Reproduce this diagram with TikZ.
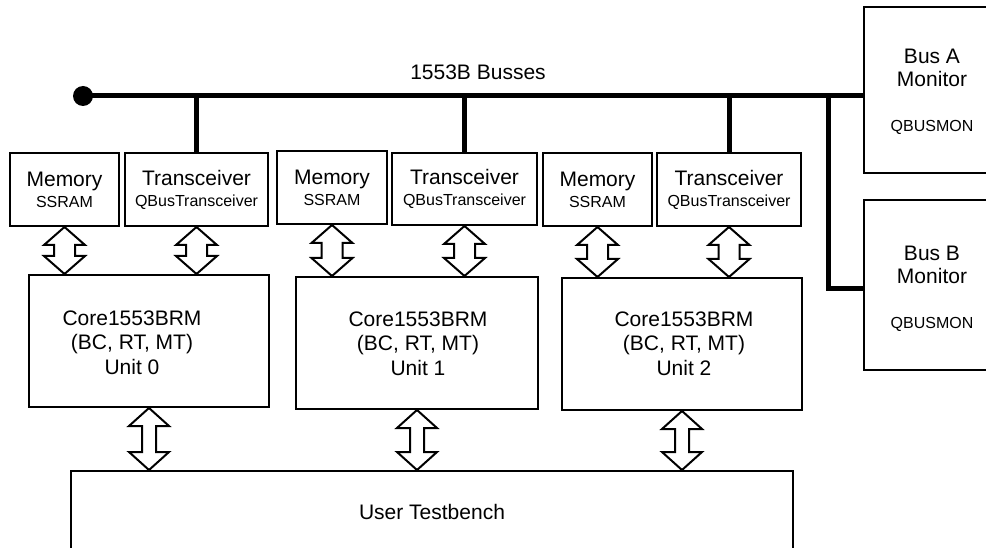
\documentclass[tikz,border=0pt]{standalone}
\usepackage{fontspec}
\setmainfont{Liberation Sans}
\usetikzlibrary{calc}
\newcommand{\smalltxt}[1]{{\fontsize{16}{19}\selectfont #1}}
% double-headed hollow arrow from #1.south to #2.north
\newcommand{\dblarrow}[5]{%
  \draw[dblarr] let \p1=(#1.south), \p2=(#2.north) in
    (\x1,\y1) -- (\x1+#3pt,\y1-#5pt) -- (\x1+#4pt,\y1-#5pt) -- (\x1+#4pt,\y2+#5pt)
    -- (\x1+#3pt,\y2+#5pt) -- (\x1,\y2) -- (\x1-#3pt,\y2+#5pt) -- (\x1-#4pt,\y2+#5pt)
    -- (\x1-#4pt,\y1-#5pt) -- (\x1-#3pt,\y1-#5pt) -- cycle;}
\begin{document}
\begin{tikzpicture}[x=1pt,y=-1pt,
  box/.style={draw, line width=2pt, inner sep=0pt, align=center,
    font=\fontsize{21}{21}\selectfont},
  txt/.style={inner sep=0pt, align=center, font=\fontsize{21}{24.5}\selectfont},
  montxt/.style={inner sep=0pt, align=center, font=\fontsize{21}{23}\selectfont},
  mon/.style={draw, line width=2pt, inner sep=0pt, minimum width=136pt},
  bus/.style={line width=5pt},
  dblarr/.style={draw, line width=2pt, fill=white, line join=miter}]
\useasboundingbox (0,0) rectangle (986,548);
\clip (0,0) rectangle (986,548);

% unit boxes
\node[box, minimum width=109pt, minimum height=73pt] (mem0) at (64.5,189.5) {Memory\\\smalltxt{SSRAM}};
\node[box, minimum width=143pt, minimum height=73pt] (tr0) at (196.5,189.5) {Transceiver\\\smalltxt{QBusTransceiver}};
\node[box, minimum width=110pt, minimum height=73pt] (mem1) at (332,187.5) {Memory\\\smalltxt{SSRAM}};
\node[box, minimum width=145pt, minimum height=72pt] (tr1) at (464.5,189) {Transceiver\\\smalltxt{QBusTransceiver}};
\node[box, minimum width=109pt, minimum height=73pt] (mem2) at (597.5,189.5) {Memory\\\smalltxt{SSRAM}};
\node[box, minimum width=144pt, minimum height=73pt] (tr2) at (729,189.5) {Transceiver\\\smalltxt{QBusTransceiver}};

\node[box, minimum width=240pt, minimum height=132pt] (core0) at (149,341) {};
\node[box, minimum width=242pt, minimum height=132pt] (core1) at (417,343) {};
\node[box, minimum width=240pt, minimum height=132pt] (core2) at (682,344) {};
\node[txt] (core0t) at (132,342.5) {Core1553BRM\\(BC, RT, MT)\\Unit 0};
\node[txt] (core1t) at (418,343.5) {Core1553BRM\\(BC, RT, MT)\\Unit 1};
\node[txt] (core2t) at (684,343.5) {Core1553BRM\\(BC, RT, MT)\\Unit 2};

% testbench
\node[box, minimum width=722pt, minimum height=120pt] (tb) at (432,531) {};
\node[txt] (tbt) at (432,512) {User Testbench};

% monitors
\node[mon, minimum height=166pt] (busA) at (932,90) {};
\node[mon, minimum height=170pt] (busB) at (932,285) {};
\node[montxt] (busAt) at (932,92) {Bus A\\Monitor\\[22pt]\smalltxt{QBUSMON}};
\node[montxt] (busBt) at (932,289) {Bus B\\Monitor\\[22pt]\smalltxt{QBUSMON}};

% 1553B bus
\coordinate (dot) at (83,96);
\coordinate (jn) at (828,96);
\coordinate (bj) at (828,289);
\fill (dot) circle (10pt);
\draw[bus] (dot) -- (dot -| busA.west);
\draw[bus] (tr0.north |- dot) -- (tr0.north);
\draw[bus] (tr1.north |- dot) -- (tr1.north);
\draw[bus] (tr2.north |- dot) -- (tr2.north);
\draw[bus] (jn) -- (bj) -- (bj -| busB.west);
\node[txt] (buslbl) at (478,72) {1553B Busses};

% arrows
\dblarrow{mem0}{core0}{20.5}{10.5}{18}
\dblarrow{tr0}{core0}{20.5}{10.5}{18}
\dblarrow{mem1}{core1}{20.5}{10.5}{18}
\dblarrow{tr1}{core1}{20.5}{10.5}{18}
\dblarrow{mem2}{core2}{20.5}{10.5}{18}
\dblarrow{tr2}{core2}{20.5}{10.5}{18}
\dblarrow{core0}{tb}{20}{7}{18}
\dblarrow{core1}{tb}{20}{7}{18}
\dblarrow{core2}{tb}{20}{7}{18}
\end{tikzpicture}
\end{document}
